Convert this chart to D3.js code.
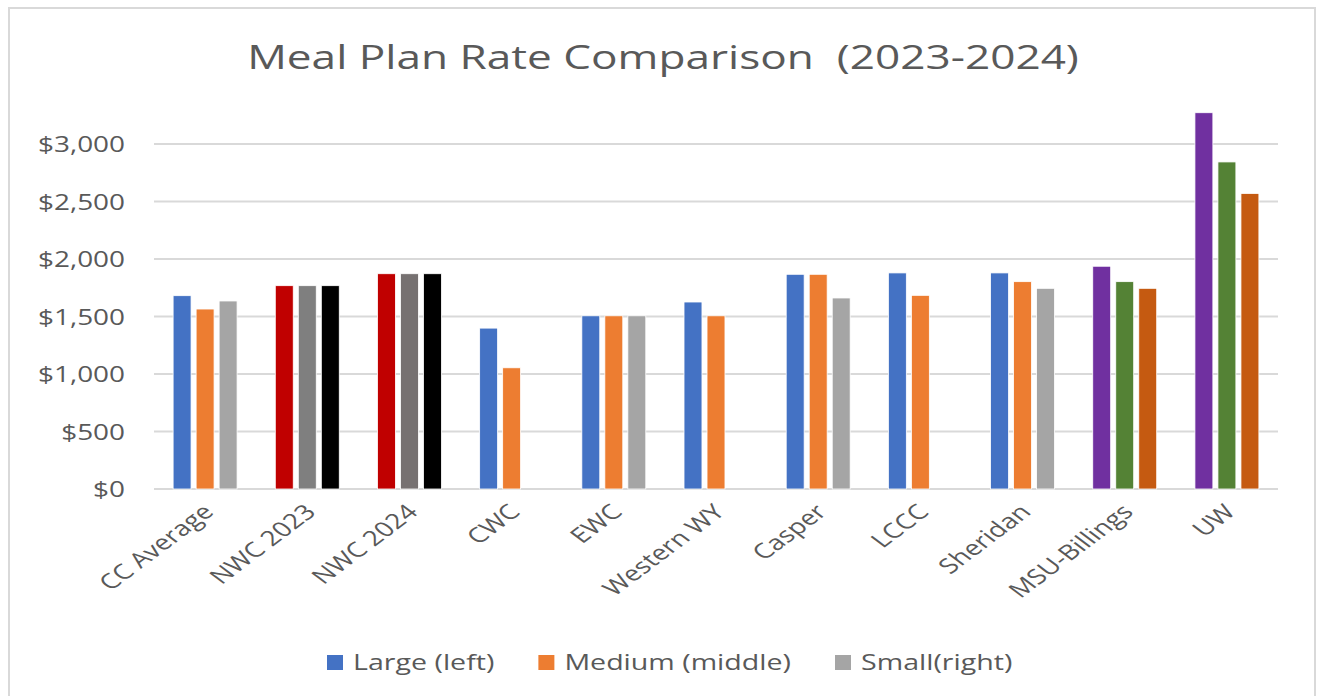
<!DOCTYPE html>
<html>
<head>
<meta charset="utf-8">
<script src="https://cdn.jsdelivr.net/npm/d3@7"></script>
<style>
  body { margin: 0; background: #fff; }
  text { font-family: "Open Sans", sans-serif; fill: #595959; }
</style>
</head>
<body>
<svg id="chart"></svg>
<script>
// data
const categories = ["CC Average", "NWC 2023", "NWC 2024", "CWC", "EWC", "Western WY",
  "Casper", "LCCC", "Sheridan", "MSU-Billings", "UW"];
const large  = [1681, 1768, 1872, 1399, 1506, 1626, 1867, 1879, 1879, 1937, 3272];
const medium = [1565, 1768, 1872, 1054, 1506, 1506, 1867, 1684, 1803, 1803, 2844];
const small  = [1635, 1768, 1872, null, 1506, null, 1661, null, 1745, 1745, 2570];
const seriesNames = ["Large (left)", "Medium (middle)", "Small(right)"];
const yTicks = [0, 500, 1000, 1500, 2000, 2500, 3000];

// colours (some colleges override the default series colours)
const seriesColors = ["#4472C4", "#ED7D31", "#A5A5A5"];
const colorOverrides = {
  "NWC 2023": ["#C00000", "#7F7F7F", "#000000"],
  "NWC 2024": ["#C00000", "#767171", "#000000"],
  "MSU-Billings": ["#7030A0", "#548235", "#C55A11"],
  "UW": ["#7030A0", "#548235", "#C55A11"]
};

// layout
const W = 1317, H = 696;
const SX = 1.33; // the reference text is stretched sideways
const plot = {left: 154, right: 1278, top: 144, bottom: 489};

const svg = d3.select('#chart').attr('width', W).attr('height', H);

svg.append('rect')
    .attr('x', 9).attr('y', 8)
    .attr('width', 1306).attr('height', 700)
    .attr('fill', '#fff')
    .attr('stroke', '#d9d9d9')
    .attr('stroke-width', 2);

const x0 = d3.scaleBand()
    .domain(categories)
    .range([plot.left, plot.right])
    .paddingInner(0.374)
    .paddingOuter(0.187);

const x1 = d3.scaleBand()
    .domain([0, 1, 2])
    .range([0, x0.bandwidth()])
    .padding(0.22)
    .paddingOuter(0);

const y = d3.scaleLinear()
    .domain([0, 3000])
    .range([plot.bottom, plot.top]);

// gridlines
svg.append('g')
    .selectAll('line')
    .data(yTicks)
    .enter()
    .append('line')
    .attr('x1', plot.left)
    .attr('x2', plot.right)
    .attr('y1', d => y(d))
    .attr('y2', d => y(d))
    .attr('stroke', '#d9d9d9')
    .attr('stroke-width', 2);

// y axis labels
const yAxis = svg.append('g')
    .attr('transform', 'translate(' + plot.left + ',0)')
    .call(d3.axisLeft(y).tickValues(yTicks).tickSize(0).tickFormat(d => '$' + d3.format(',')(d)));
yAxis.select('.domain').remove();
yAxis.selectAll('text')
    .attr('x', null)
    .attr('dy', '0.36em')
    .attr('transform', 'translate(-29,0) scale(' + SX + ',1)')
    .style('font-size', '21px')
    .style('font-family', '"Open Sans", sans-serif')
    .attr('fill', '#595959');

// bars
const rows = categories.map((c, i) => ({
  cat: c,
  vals: [large[i], medium[i], small[i]],
  colors: colorOverrides[c] || seriesColors
}));

const groups = svg.append('g')
    .selectAll('g')
    .data(rows)
    .enter()
    .append('g')
    .attr('transform', d => 'translate(' + x0(d.cat) + ',0)');

groups.selectAll('rect')
    .data(d => d.vals.map((v, k) => ({k: k, v: v, color: d.colors[k]})).filter(b => b.v != null))
    .enter()
    .append('rect')
    .attr('x', b => x1(b.k))
    .attr('y', b => y(b.v))
    .attr('width', x1.bandwidth())
    .attr('height', b => y(0) - y(b.v))
    .attr('fill', b => b.color)
    .attr('stroke', '#fff')
    .attr('stroke-width', 0.8);

// x labels
svg.append('g')
    .selectAll('text')
    .data(categories)
    .enter()
    .append('text')
    .attr('transform', d => 'translate(' + (x0(d) + x0.bandwidth() / 2 + 3) + ',' + (plot.bottom + 19) + ') scale(' + SX + ',1) rotate(-45)')
    .attr('text-anchor', 'end')
    .attr('dy', '0.35em')
    .style('font-size', '21px')
    .text(d => d);

// title
svg.append('text')
    .attr('transform', 'translate(663,69) scale(' + SX + ',1)')
    .attr('text-anchor', 'middle')
    .style('font-size', '33.2px')
    .style('white-space', 'pre')
    .text('Meal Plan Rate Comparison  (2023-2024)');

// legend
const legend = svg.append('g').attr('transform', 'translate(327,655)');
let lx = 0;
seriesNames.forEach(function(name, k) {
  legend.append('rect')
      .attr('x', lx).attr('y', 0)
      .attr('width', 16).attr('height', 15)
      .attr('fill', seriesColors[k]);
  const t = legend.append('text')
      .attr('transform', 'translate(' + (lx + 26) + ',15) scale(' + SX + ',1)')
      .style('font-size', '21.5px')
      .text(name);
  lx += 26 + t.node().getComputedTextLength() * SX + 44;
});
</script>
</body>
</html>
